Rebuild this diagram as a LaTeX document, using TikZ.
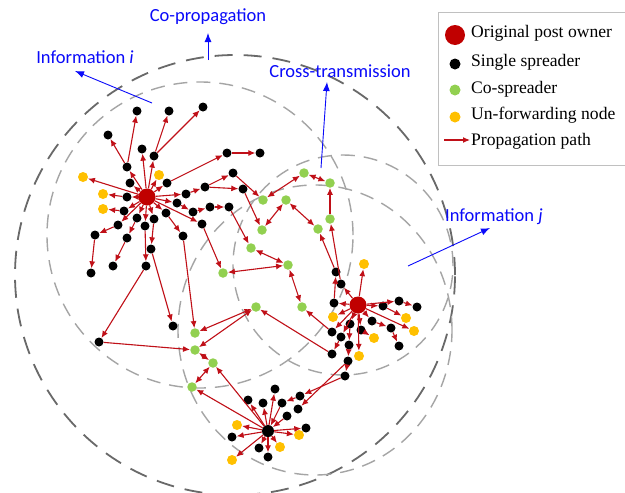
\documentclass[tikz,border=0pt]{standalone}
\usepackage{fontspec}
\setmainfont{Liberation Serif}
\newfontfamily\calib{Carlito}
\usetikzlibrary{arrows.meta}
\definecolor{ownred}{RGB}{192,0,0}
\definecolor{arrred}{RGB}{192,16,24}
\definecolor{cogreen}{RGB}{146,208,80}
\definecolor{unyellow}{RGB}{255,192,0}
\definecolor{annblue}{RGB}{10,10,250}
\definecolor{dkgray}{RGB}{105,105,105}
\definecolor{ltgray}{RGB}{165,165,165}
\begin{document}
\begin{tikzpicture}[x=1pt,y=-1pt,
 own/.style={circle, fill=ownred, inner sep=0pt, minimum size=17pt},
 blk/.style={circle, fill=black, inner sep=0pt, minimum size=9pt},
 grn/.style={circle, fill=cogreen, inner sep=0pt, minimum size=9.5pt},
 ylw/.style={circle, fill=unyellow, inner sep=0pt, minimum size=10pt},
 hub/.style={circle, fill=black, inner sep=0pt, minimum size=12pt},
 pa/.style={draw=arrred, line width=1.1pt, -{Latex[length=7pt,width=6pt]}},
 pd/.style={draw=arrred, line width=1.1pt, {Latex[length=7pt,width=6pt]}-{Latex[length=7pt,width=6pt]}},
 ba/.style={draw=annblue, line width=0.9pt, -{Latex[length=9pt,width=7pt]}},
 lab/.style={text=annblue, font=\calib\fontsize{18.5}{22}\selectfont, inner sep=0pt},
 leg/.style={font=\fontsize{17.6}{21}\selectfont, anchor=west, inner sep=0pt},
 dkc/.style={draw=dkgray, line width=1.8pt, dash pattern=on 18pt off 11pt},
 ltc/.style={draw=ltgray, line width=1.4pt, dash pattern=on 14pt off 9pt}]
\path[use as bounding box] (0,0) rectangle (625,493);
\clip (0,0) rectangle (625,493);
\fill[white] (0,0) rectangle (625,493);
% dashed circles
\draw[dkc] (235,275) circle[radius=220pt];
\draw[ltc] (200,235) circle[radius=153pt];
\draw[ltc] (343,265) circle[radius=110pt];
\draw[ltc] (315,330) ellipse[x radius=137pt, y radius=145pt];
% top-left cluster
\node[own] (C1) at (147,197) {};
\foreach \n/\x/\y in {t1/127/167, t2/142/149, t3/154/156, t4/108/135, t5/137/111, t6/169/111, t7/203/107,
  t8/130/183, t9/167/183, t10/227/153, t11/260/153, t12/127/197, t13/124/211, t14/186/194, t15/205/187,
  t16/233/173, t17/243/189, t18/177/203, t19/193/212, t20/210/207, t21/229/207, t22/202/224, t23/166/213,
  t24/183/236, t25/154/219, t26/151/249, t27/145/226, t28/146/266, t29/137/218, t30/127/238, t31/113/266,
  t32/118/225, t33/95/235, t34/91/273, m1/173/326, m2/99/342}
  \node[blk] (\n) at (\x,\y) {};
\foreach \n/\x/\y in {y1/83/177, y2/103/194, y3/103/209, y4/159/175}
  \node[ylw] (\n) at (\x,\y) {};
% greens
\foreach \n/\x/\y in {g1/263/200, g2/304/173, g3/330/183, g4/286/200, g5/330/219, g6/262/230, g7/318/229,
  g8/251/248, g9/288/265, g10/223/273, g11/302/307, g12/256/307, g13/195/333, g14/195/350, g15/213/363, g16/192/387}
  \node[grn] (\n) at (\x,\y) {};
% right cluster
\node[own] (C2) at (358,305) {};
\foreach \n/\x/\y in {r2/336/272, r3/341/284, r4/334/303, r6/332/332, r7/341/337, r8/332/354, r9/350/324,
  r10/349/345, r11/348/361, r12/345/376, r13/372/321, r14/391/328, r15/399/346, r16/361/330, r19/383/306,
  r20/399/301, r21/417/307}
  \node[blk] (\n) at (\x,\y) {};
\foreach \n/\x/\y in {r1/364/264, r5/333/317, r17/374/338, r18/359/356, r22/406/318, r23/414/331}
  \node[ylw] (\n) at (\x,\y) {};
% bottom cluster
\node[hub] (C3) at (268,431) {};
\foreach \n/\x/\y in {b1/248/400, b2/263/403, b3/275/389, b4/282/403, b5/300/396, b6/287/416, b7/298/409,
  b8/306/428, b9/232/437, b10/259/448, b11/268/457}
  \node[blk] (\n) at (\x,\y) {};
\foreach \n/\x/\y in {by1/237/425, by2/299/435, by3/280/447, by4/232/460}
  \node[ylw] (\n) at (\x,\y) {};
% single arrows
\foreach \a/\b in {C1/t1, t1/t4, t1/t5, C1/t2, C1/t3, t3/t6, t3/t7, C1/t8, C1/t9, t9/t10, t10/t11,
  C1/t12, t12/y2, C1/t13, t13/y3, C1/y1, C1/y4, C1/t14, t14/t15, t15/t16, t15/t17, t16/g1, t17/g6,
  C1/t18, t18/t19, t19/t20, t20/t21, t21/g8, C1/t22, t22/g10, C1/t23, t23/t24, t24/g13,
  C1/t25, t25/t26, t26/m1, C1/t27, t27/t28, t28/m2, m2/g14, C1/t29, t29/t30, t30/t31,
  C1/t32, t32/t33, t33/t34,
  C2/r1, C2/r3, r3/g5, g5/g3, C2/r4, r4/r2, r2/g7, C2/r5, C2/r6, r6/g11, C2/r7, r7/r8, r8/g12,
  C2/r9, r9/r10, r10/r11, r11/r12, C2/r13, r13/r14, r14/r15, C2/r16, r16/r17, C2/r18,
  C2/r19, r19/r22, C2/r20, r20/r21, C2/r23,
  r12/b5, b5/b4, b4/C3, r11/b7, b6/C3,
  C3/b1, C3/b2, C3/b3, C3/b8, C3/b9, C3/b10, C3/b11, C3/by1, C3/by2, C3/by3, C3/by4, C3/g16, C3/g15}
  \path[pa] (\a) -- (\b);
% double arrows
\foreach \a/\b in {g1/g2, g2/g3, g4/g7, g4/g6, g8/g9, g10/g9, g9/g11, g12/g13, g12/g14, g14/g15, g15/g16}
  \path[pd] (\a) -- (\b);
% annotations
\coordinate (ii0) at (152,103); \coordinate (ii1) at (75,71);
\coordinate (cp0) at (208,60); \coordinate (cp1) at (208,33);
\coordinate (ct0) at (321,168); \coordinate (ct1) at (327,82);
\coordinate (ij0) at (408,266); \coordinate (ij1) at (490,228);
\path[ba] (ii0) -- (ii1);
\path[ba] (cp0) -- (cp1);
\path[ba] (ct0) -- (ct1);
\path[ba] (ij0) -- (ij1);
\node[lab] (lii) at (85,57) {Information \textit{i}};
\node[lab] (lcp) at (208,17) {Co-propagation};
\node[lab] (lct) at (340,71) {Cross-transmission};
\node[lab] (lij) at (494,217) {Information \textit{j}};
% legend
\draw[draw=ltgray!70, fill=white, line width=0.8pt] (438,12) rectangle (640,165);
\node[circle, fill=ownred, inner sep=0pt, minimum size=20pt] (k1) at (455,35) {};
\node[circle, fill=black, inner sep=0pt, minimum size=11pt] (k2) at (455,64) {};
\node[circle, fill=cogreen, inner sep=0pt, minimum size=11pt] (k3) at (455,90) {};
\node[circle, fill=unyellow, inner sep=0pt, minimum size=11pt] (k4) at (455,117) {};
\coordinate (k5a) at (444,140); \coordinate (k5b) at (470,140);
\path[pa] (k5a) -- (k5b);
\node[leg] (e1) at (471,33) {Original post owner};
\node[leg] (e2) at (471,62) {Single spreader};
\node[leg] (e3) at (471,89) {Co-spreader};
\node[leg] (e4) at (471,115) {Un-forwarding node};
\node[leg] (e5) at (471,141) {Propagation path};
\end{tikzpicture}
\end{document}
